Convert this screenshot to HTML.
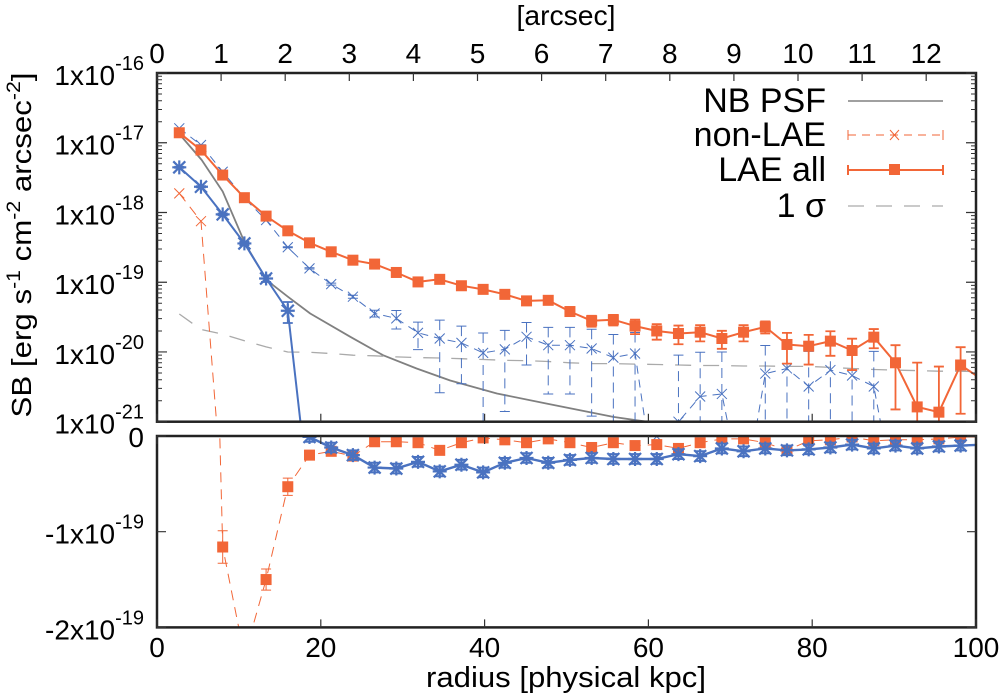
<!DOCTYPE html>
<html><head><meta charset="utf-8"><style>
html,body{margin:0;padding:0;background:#fff;}
svg{display:block;font-family:"Liberation Sans",sans-serif;}
</style></head><body>
<svg id="chart" width="1000" height="695" viewBox="0 0 1000 695" xmlns="http://www.w3.org/2000/svg">
<defs>
<clipPath id="cTop"><rect x="157" y="73" width="819" height="349"/></clipPath>
<clipPath id="cBot"><rect x="157" y="436" width="819" height="191"/></clipPath>
</defs>
<g id="gTop" clip-path="url(#cTop)"></g>
<g id="gBot" clip-path="url(#cBot)"></g>
<g id="gAx"></g>
<text x="566" y="25" font-size="28" text-anchor="middle" textLength="99" lengthAdjust="spacingAndGlyphs">[arcsec]</text>
<text x="566" y="687" font-size="29" text-anchor="middle" textLength="280" lengthAdjust="spacingAndGlyphs">radius [physical kpc]</text>
<text transform="translate(31,245) rotate(-90)" font-size="28" text-anchor="middle" textLength="345" lengthAdjust="spacingAndGlyphs">SB [erg s<tspan dy="-11" font-size="19">-1</tspan><tspan dy="11"> cm</tspan><tspan dy="-11" font-size="19">-2</tspan><tspan dy="11"> arcsec</tspan><tspan dy="-11" font-size="19">-2</tspan><tspan dy="11">]</tspan></text>
<g font-size="34" text-anchor="end">
<text x="826" y="112">NB PSF</text>
<line x1="848" y1="101" x2="943" y2="101" stroke="#808080" stroke-width="1.6"/>
<text x="826" y="146">non-LAE</text>
<line x1="848" y1="135" x2="943" y2="135" stroke="#f26637" stroke-width="1" stroke-dasharray="8,6"/>
<path d="M848,130v10M943,130v10M890,130l9,10M899,130l-9,10" stroke="#f26637" stroke-width="1"/>
<text x="826" y="181">LAE all</text>
<line x1="848" y1="170" x2="943" y2="170" stroke="#f26637" stroke-width="2"/>
<path d="M848,165v10M943,165v10" stroke="#f26637" stroke-width="2"/>
<rect x="889" y="164" width="11" height="11" fill="#f26637"/>
<text x="826" y="217">1 σ</text>
<line x1="848" y1="206" x2="943" y2="206" stroke="#aaaaaa" stroke-width="1.3" stroke-dasharray="16,12"/>
</g>
</svg>
<script>
const radii=[2.72,5.37,8.02,10.67,13.32,15.97,18.62,21.27,23.92,26.57,29.22,31.87,34.52,37.17,39.82,42.47,45.12,47.77,50.42,53.07,55.72,58.37,61.02,63.67,66.32,68.97,71.62,74.27,76.92,79.57,82.22,84.87,87.52,90.17,92.82,95.47,98.12,100.77];
// values in units of 1e-20 erg/s/cm2/arcsec2
const laeAll=[1390,785,344,163,88.7,54.6,36.7,27.3,20.7,18.2,13.8,10.1,11.0,8.9,7.9,6.7,5.4,5.5,3.8,2.8,2.9,2.35,2.0,1.84,1.92,1.56,1.92,2.29,1.28,1.21,1.43,1.05,1.63,0.70,0.163,0.137,0.65,0.4];
const laeAllErr=[10,6,3,1.5,1,0.7,0.5,0.4,0.3,0.3,0.25,0.2,0.2,0.2,0.2,0.2,0.2,0.2,0.5,0.5,0.5,0.55,0.5,0.55,0.5,0.45,0.5,0.45,0.6,0.55,0.55,0.5,0.5,0.55,0.54,0.48,0.52,0.5];
const nonLae=[188,75,-11.6,-23,-15.0,-5.3,-2.0,-1.6,-2.1,-0.6,-0.6,-0.7,-1.5,-0.7,-0.2,-0.4,-0.7,-0.3,-0.7,-1.2,-0.7,-1.0,-0.9,-1.3,-0.7,-0.3,-0.3,-0.7,-1.5,-0.5,-0.4,-0.1,-0.5,-0.4,-0.4,-0.3,-0.1,-0.1];
const nonLaeErr=[5,3,1.7,1.5,1.1,0.9,0.5,0.4,0.4,0.4,0.4,0.4,0.4,0.4,0.4,0.4,0.4,0.4,0.4,0.4,0.4,0.4,0.4,0.4,0.4,0.4,0.4,0.4,0.4,0.4,0.4,0.4,0.4,0.4,0.4,0.4,0.4,0.4];
const nonLaeBlue=[1610,927,384,161,77.8,31.7,15.8,9.4,6.2,3.57,3.03,1.88,1.56,1.35,0.97,1.09,1.65,1.25,1.25,1.12,0.83,0.95,-0.05,0.10,0.23,0.25,-0.05,0.49,0.58,0.32,0.55,0.46,0.32,-0.05,-0.05,-0.05,-0.05,-0.05];
const nonLaeBlueErr=[20,10,5,2,1,0.5,0.3,0.3,0.3,0.4,0.9,0.8,1.3,1.0,0.9,0.95,1.0,1.0,1.0,1.0,0.95,0.95,0.95,0.8,0.76,0.75,0.8,0.75,0.7,0.7,0.7,0.7,0.7,0.7,0.7,0.7,0.7,0.7];
const laeBright=[444,234,94,36,11.3,3.9,-0.1,-1.2,-2.0,-3.3,-3.4,-2.7,-3.7,-3.0,-3.8,-2.8,-2.3,-2.8,-2.5,-2.3,-2.4,-2.4,-2.4,-1.9,-2.1,-1.3,-1.6,-1.3,-1.5,-1.4,-1.2,-0.9,-1.3,-1.0,-1.3,-1.1,-1.0,-0.9];
const laeBrightErr=[8,5,3,2,1.2,1.3,0.5,0.5,0.5,0.5,0.5,0.5,0.5,0.5,0.5,0.5,0.5,0.5,0.5,0.5,0.5,0.5,0.5,0.5,0.5,0.5,0.5,0.5,0.5,0.5,0.5,0.5,0.5,0.5,0.5,0.5,0.5,0.5];
const sigma=[3.5,2.1,1.8,1.45,1.18,1.0,0.99,0.95,0.9,0.88,0.85,0.83,0.82,0.8,0.78,0.76,0.75,0.73,0.7,0.68,0.68,0.67,0.66,0.65,0.64,0.64,0.63,0.63,0.62,0.62,0.6,0.58,0.56,0.55,0.54,0.53,0.53,0.52];
const psfR=[2.72,5.46,8.02,10.74,13.4,16.0,18.7,23.6,27.6,31.7,35.8,41.5,47.6,55.7,59.8,66];
const psfV=[1334,565,200,36.1,10.7,6.17,3.56,1.65,0.90,0.58,0.39,0.254,0.182,0.117,0.10,0.07];
const kpcTicks=[0,20,40,60,80,100];
const arcTicks=[0,1,2,3,4,5,6,7,8,9,10,11,12];
const decadeExps=[-16,-17,-18,-19,-20,-21];
const botTicks=[0,-10,-20];
const botTickLabels=["0","-1x10","-2x10"];

const L=157,R=976,T=73,B=421.7,BT=436,BB=627.4;
const NS="http://www.w3.org/2000/svg";
const ORG="#f26637",BLU="#4a72c0";
function xS(r){return L+(r/100)*(R-L);}
function xArc(a){return L+a*64.1;}
function yTop(v){return v<=0?B+80:T+(4-Math.log10(v))*((B-T)/5);}
function yTopC(v){return v<=0?B+5:Math.min(yTop(v),B+5);}
function yBot(v){return BT-v*((BB-BT)/20);}
function mk(tag,attrs,parent){const e=document.createElementNS(NS,tag);for(const k in attrs)e.setAttribute(k,attrs[k]);parent.appendChild(e);return e;}
const gT=document.getElementById('gTop'),gB=document.getElementById('gBot'),gA=document.getElementById('gAx');

function poly(pts,stroke,w,dash,parent,name){
  const e=mk('polyline',{points:pts.map(p=>p[0].toFixed(1)+','+p[1].toFixed(1)).join(' '),fill:'none',stroke:stroke,'stroke-width':w,'stroke-dasharray':dash||'none','stroke-linejoin':'round'},parent);
  
  
  return e;
}
function errBar(x,y1,y2,col,w,dash,parent){
  const e=mk('path',{d:`M${x},${y1}V${y2}M${x-5},${y1}h10M${x-5},${y2}h10`,stroke:col,'stroke-width':w,fill:'none','stroke-dasharray':dash||'none'},parent);
  
  
}
function sq(x,y,parent){const e=mk('rect',{x:x-5.5,y:y-5.5,width:11,height:11,fill:ORG},parent);
  
  }
function cross(x,y,s,col,w,parent){const e=mk('path',{d:`M${x-s},${y-s}L${x+s},${y+s}M${x+s},${y-s}L${x-s},${y+s}`,stroke:col,'stroke-width':w},parent);
  
  }
function star(x,y,parent){const s=6;const e=mk('path',{d:`M${x-s},${y-s}L${x+s},${y+s}M${x+s},${y-s}L${x-s},${y+s}M${x},${y-s-1}V${y+s+1}M${x-s-1},${y}H${x+s+1}`,stroke:BLU,'stroke-width':2.2},parent);
  
  }

poly(psfR.map((r,i)=>[xS(r),yTop(psfV[i])]),'#808080',1.8,null,gT,'nb-psf-line');
poly(radii.map((r,i)=>[xS(r),yTop(sigma[i])]),'#aaaaaa',1.3,'16,12',gT,'one-sigma-line');

poly(radii.map((r,i)=>[xS(r),yTop(nonLaeBlue[i])]),BLU,1,'8,6',gT,'non-lae-blue-line');
radii.forEach((r,i)=>{const v=nonLaeBlue[i],e=nonLaeBlueErr[i];if(v>0){errBar(xS(r),yTopC(v+e),yTopC(v-e),BLU,1,'10,6',gT);cross(xS(r),yTop(v),5,BLU,1,gT);}});
poly(radii.map((r,i)=>[xS(r),yTop(nonLae[i])]),ORG,1,'10,7',gT,'non-lae-line');
radii.forEach((r,i)=>{const v=nonLae[i];if(v>0)cross(xS(r),yTop(v),5,ORG,1,gT);});
poly(radii.map((r,i)=>[xS(r),yTop(laeBright[i])]),BLU,2,null,gT,'lae-bright-line');
radii.forEach((r,i)=>{const v=laeBright[i],e=laeBrightErr[i];if(v>0){errBar(xS(r),yTopC(v+e),yTopC(v-e),BLU,1.8,null,gT);star(xS(r),yTop(v),gT);}});
poly(radii.map((r,i)=>[xS(r),yTop(laeAll[i])]),ORG,2,null,gT,'lae-all-line');
radii.forEach((r,i)=>{const v=laeAll[i],e=laeAllErr[i];errBar(xS(r),yTopC(v+e),yTopC(v-e),ORG,1.8,null,gT);sq(xS(r),yTop(v),gT);});

radii.forEach((r,i)=>{const v=nonLaeBlue[i];if(v<=0)cross(xS(r),yBot(v),5,BLU,1,gB);});
poly(radii.map((r,i)=>[xS(r),yBot(nonLae[i])]),ORG,1,'10,7',gB,'non-lae-diff-line');
radii.forEach((r,i)=>{const v=nonLae[i],e=nonLaeErr[i];if(v<0){errBar(xS(r),yBot(v+e),yBot(v-e),ORG,1,null,gB);sq(xS(r),yBot(v),gB);}});
const bi=laeBright.map((v,i)=>i).filter(i=>laeBright[i]<=0);
poly([[xS(radii[bi[0]-1]),yBot(2)]].concat(bi.map(i=>[xS(radii[i]),yBot(laeBright[i])])),BLU,2.4,null,gB,'lae-bright-diff-line');
bi.forEach(i=>{const v=laeBright[i],e=laeBrightErr[i];errBar(xS(radii[i]),yBot(v+e),yBot(v-e),BLU,2,null,gB);star(xS(radii[i]),yBot(v),gB);});

mk('rect',{x:L,y:T,width:R-L,height:B-T,fill:'none',stroke:'#222','stroke-width':2.5},gA);
mk('rect',{x:L,y:BT,width:R-L,height:BB-BT,fill:'none',stroke:'#222','stroke-width':2.5},gA);

function txt(x,y,s,anchor,size,name,parent){const e=mk('text',{x:x,y:y,'font-size':size,'text-anchor':anchor},parent);e.textContent=s;
  
  return e;}
kpcTicks.forEach(k=>{const x=xS(k);
  mk('path',{d:`M${x},${B}v-8M${x},${BB}v-8M${x},${BT}v8`,stroke:'#333','stroke-width':1.2},gA);
  txt(x,657,String(k),'middle',28,'x-tick-label',gA);});
arcTicks.forEach(a=>{const x=xArc(a);
  mk('path',{d:`M${x},${T}v8`,stroke:'#333','stroke-width':1.2},gA);
  txt(x,63,String(a),'middle',28,'top-x-tick-label',gA);});
decadeExps.forEach(ex=>{const y=T+(-16-ex)*((B-T)/5);
  mk('path',{d:`M${L},${y}h10M${R},${y}h-10`,stroke:'#333','stroke-width':1.2},gA);
  const t=txt(144,y+12,'1x10','end',28,'y-tick-label',gA);
  const s=document.createElementNS(NS,'tspan');s.setAttribute('dy','-15');s.setAttribute('font-size','20');s.textContent=String(ex);t.appendChild(s);
  if(ex>-21){for(let m=2;m<=9;m++){const yy=y+(B-T)/5-Math.log10(m)*((B-T)/5);
    mk('path',{d:`M${L},${yy}h5M${R},${yy}h-5`,stroke:'#333','stroke-width':1},gA);}}
});
botTicks.forEach((v,i)=>{const y=yBot(v);
  mk('path',{d:`M${L},${y}h9M${R},${y}h-9`,stroke:'#333','stroke-width':1.2},gA);
  const t=txt(144,y+(v===0?11:12),botTickLabels[i],'end',28,'bottom-y-tick-label',gA);
  if(v!==0){const s=document.createElementNS(NS,'tspan');s.setAttribute('dy','-15');s.setAttribute('font-size','20');s.textContent='-19';t.appendChild(s);}
});
</script>
</body></html>
